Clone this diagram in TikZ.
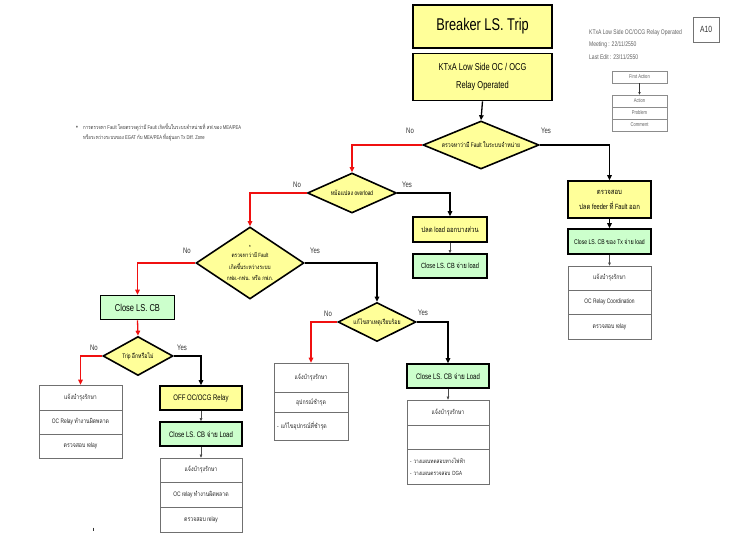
\documentclass[tikz,border=0pt]{standalone}
\usepackage{fontspec}
\setmainfont{Liberation Sans}[FakeStretch=0.75]
\newfontfamily\thaifont[Script=Thai,FakeStretch=0.8]{Loma}
\newcommand\tht[1]{{\thaifont #1}}
\usetikzlibrary{shapes.geometric,arrows.meta}
\definecolor{byel}{HTML}{FFFF99}
\definecolor{bgrn}{HTML}{CCFFCC}
\definecolor{rline}{HTML}{F01010}
\definecolor{wedge}{HTML}{707070}
\definecolor{legtxt}{HTML}{606060}
\tikzset{
  fs/.style={font=\fontsize{#1}{\fpeval{#1*1.3}}\selectfont},
  ybox/.style={draw=black, line width=1.6pt, fill=byel, inner sep=1pt, align=center, fs=7.5},
  gbox/.style={draw=black, line width=1.6pt, fill=bgrn, inner sep=1pt, align=center, fs=7.5},
  wrow/.style={draw=wedge, line width=0.7pt, fill=white, inner sep=1pt, align=center, fs=6.5, text=black!85},
  dia/.style={diamond, draw=black, line width=1.6pt, fill=byel, inner sep=0pt, align=center, fs=6.5},
  yesline/.style={draw=black, line width=1.3pt, -{Triangle[length=5pt,width=4.5pt]}},
  noline/.style={draw=rline, line width=1.3pt, -{Triangle[length=5pt,width=4.5pt]}},
  thinarr/.style={draw=black!70, line width=0.6pt, -{Triangle[length=3pt,width=2.6pt]}},
  lab/.style={fs=8, text=black!80, inner sep=0pt},
  legbox/.style={draw=black!45, line width=0.6pt, minimum width=55pt, minimum height=12pt, inner sep=0pt, fs=5.5, text=legtxt},
  legtext/.style={anchor=west, inner sep=0pt, fs=6.7, text=legtxt}
}
\begin{document}
\begin{tikzpicture}[x=1pt,y=-1pt]
\useasboundingbox (0,0) rectangle (750,537);
\fill[white] (0,0) rectangle (750,537);

% top boxes
\node[ybox, minimum width=139pt, minimum height=43pt, fs=17] (brk) at (482.5,26.5) {Breaker LS. Trip};
\node[ybox, minimum width=139pt, minimum height=47pt, font=\fontsize{10}{18}\selectfont] (ktx) at (482.5,77) {KTxA Low Side OC / OCG\\Relay Operated};

% decisions
\node[dia, aspect=2.42, minimum width=116pt, minimum height=48pt] (d1) at (481,145) {\tht{ตรวจหาว่ามี} Fault \tht{ในระบบจำหน่าย}};
\node[dia, aspect=2.2, minimum width=89pt, minimum height=40pt] (d2) at (352,193) {\tht{หม้อแปลง} overload};
\node[dia, aspect=1.5, minimum width=108pt, minimum height=72pt, font=\fontsize{6}{11.5}\selectfont] (d3) at (250,263) {*\\[-3pt]\tht{ตรวจหาว่ามี} Fault\\\tht{เกิดขึ้นระหว่างระบบ}\\\tht{กฟผ.-กฟน. หรือ กฟภ.}};
\node[dia, aspect=1.8, minimum width=70pt, minimum height=39pt] (d4) at (138,356) {Trip \tht{อีกหรือไม่}};
\node[dia, aspect=2.0, minimum width=78pt, minimum height=39pt] (d5) at (377,322) {\tht{แก้ไขสาเหตุเรียบร้อย}};

% right column (Yes of d1)
\node[ybox, minimum width=83pt, minimum height=37pt, font=\fontsize{7.5}{15}\selectfont] (fdr) at (609.5,199.5) {\tht{ตรวจสอบ}\\\tht{ปลด} feeder \tht{ที่} Fault \tht{ออก}};
\node[gbox, minimum width=83pt, minimum height=25pt, fs=6.8] (cl5) at (609.5,241.5) {Close LS. CB \tht{ของ} Tx \tht{จ่าย} load};
\node[wrow, minimum width=83pt, minimum height=24pt] (w5a) at (609.5,278) {\tht{แจ้งบำรุงรักษา}};
\node[wrow, minimum width=83pt, minimum height=24pt] (w5b) at (609.5,302) {OC Relay Coordination};
\node[wrow, minimum width=83pt, minimum height=25pt] (w5c) at (609.5,326.5) {\tht{ตรวจสอบ} relay};

% Yes of d2
\node[ybox, minimum width=74pt, minimum height=25pt] (pld) at (450,229.5) {\tht{ปลด} load \tht{ออกบางส่วน}};
\node[gbox, minimum width=74pt, minimum height=24pt] (cl4) at (450,266) {Close LS. CB \tht{จ่าย} load};

% No of d3
\node[gbox, minimum width=74pt, minimum height=24pt, fs=10] (cls) at (137.5,307.5) {Close LS. CB};

% No of d4
\node[wrow, minimum width=83pt, minimum height=25pt] (w1a) at (80.5,397.5) {\tht{แจ้งบำรุงรักษา}};
\node[wrow, minimum width=83pt, minimum height=24pt] (w1b) at (80.5,422) {OC Relay \tht{ทำงานผิดพลาด}};
\node[wrow, minimum width=83pt, minimum height=24pt] (w1c) at (80.5,446) {\tht{ตรวจสอบ} relay};

% Yes of d4
\node[ybox, minimum width=82pt, minimum height=24pt, fs=8] (off) at (201,398) {OFF OC/OCG Relay};
\node[gbox, minimum width=82pt, minimum height=24pt, fs=8] (cl2) at (201,434) {Close LS. CB \tht{จ่าย} Load};
\node[wrow, minimum width=82pt, minimum height=24pt] (w2a) at (201,470) {\tht{แจ้งบำรุงรักษา}};
\node[wrow, minimum width=82pt, minimum height=25pt] (w2b) at (201,494.5) {OC relay \tht{ทำงานผิดพลาด}};
\node[wrow, minimum width=82pt, minimum height=25pt] (w2c) at (201,519.5) {\tht{ตรวจสอบ} relay};

% No of d5
\node[wrow, minimum width=74pt, minimum height=29pt] (w3a) at (311,377.5) {\tht{แจ้งบำรุงรักษา}};
\node[wrow, minimum width=74pt, minimum height=20pt] (w3b) at (311,402) {\tht{อุปกรณ์ชำรุด}};
\node[wrow, minimum height=28pt, text width=68pt, inner xsep=3pt, align=left] (w3c) at (311,426) {- \tht{แก้ไขอุปกรณ์ที่ชำรุด}};

% Yes of d5
\node[gbox, minimum width=82pt, minimum height=24pt, fs=8] (cl3) at (448,376) {Close LS. CB \tht{จ่าย} Load};
\node[wrow, minimum width=82pt, minimum height=25pt] (w4a) at (448,412.5) {\tht{แจ้งบำรุงรักษา}};
\node[wrow, minimum width=82pt, minimum height=24pt] (w4b) at (448,437) {};
\node[wrow, minimum height=35pt, text width=76pt, inner xsep=3pt, align=left, font=\fontsize{6}{12}\selectfont] (w4c) at (448,466.5) {- \tht{วางแผนทดสอบทางไฟฟ้า}\\- \tht{วางแผนตรวจสอบ} DGA};

% connectors
\draw[yesline] (ktx.south) -- (d1.north);
\draw[noline] (d1.west) -| (d2.north);
\draw[yesline] (d1.east) -| (fdr.north);
\draw[noline] (d2.west) -| (d3.north);
\draw[yesline] (d2.east) -| (pld.north);
\draw[thinarr] (pld.south) -- (cl4.north);
\draw[noline] (d3.west) -| (cls.north);
\draw[yesline] (d3.east) -| (d5.north);
\draw[noline] (cls.south) -- (d4.north);
\draw[noline] (d4.west) -| (w1a.north);
\draw[yesline] (d4.east) -| (off.north);
\draw[thinarr] (off.south) -- (cl2.north);
\draw[thinarr] (cl2.south) -- (w2a.north);
\draw[noline] (d5.west) -| (w3a.north);
\draw[yesline] (d5.east) -| (cl3.north);
\draw[thinarr] (cl3.south) -- (w4a.north);
\draw[yesline] (fdr.south) -- (cl5.north);
\draw[thinarr] (cl5.south) -- (w5a.north);

% Yes / No labels
\node[lab] (n1) at (410,131) {No};
\node[lab] (y1) at (546,131) {Yes};
\node[lab] (n2) at (297,185) {No};
\node[lab] (y2) at (407,185) {Yes};
\node[lab] (n3) at (187,251) {No};
\node[lab] (y3) at (315,251) {Yes};
\node[lab] (n4) at (94,348) {No};
\node[lab] (y4) at (182,348) {Yes};
\node[lab] (n5) at (328,314) {No};
\node[lab] (y5) at (423,313) {Yes};

% legend
\node[legtext] (lt1) at (589,33) {KTxA Low Side OC/OCG Relay Operated};
\node[legtext] (lt2) at (589,45) {Meeting : 22/11/2550};
\node[legtext] (lt3) at (589,57) {Last Edit : 23/11/2550};
\node[draw=black!55, line width=0.6pt, minimum width=26pt, minimum height=25pt, inner sep=0pt, fs=9, text=black!80] (a10) at (706,29.5) {A10};
\node[legbox] (lfa) at (639.5,77) {First Action};
\node[legbox] (lac) at (639.5,101) {Action};
\node[legbox] (lpr) at (639.5,113) {Problem};
\node[legbox] (lco) at (639.5,125) {Comment};
\draw[draw=black!80, line width=0.6pt, -{Triangle[length=2.5pt,width=2.2pt]}] (lfa.south) -- (lac.north);

% note
\node[inner sep=0pt, fs=7, text=black!75] (blt) at (77,128) {\textbullet};
\node[anchor=west, inner sep=0pt, align=left, font=\fontsize{5.5}{10}\selectfont, text=black!75] (note) at (83,132) {\tht{การตรวจหา} Fault \tht{โดยตรวจดูว่ามี} Fault \tht{เกิดขึ้นในระบบจำหน่ายที่ สฟ.ของ} MEA/PEA\\\tht{หรือระหว่างระบบของ} EGAT \tht{กับ} MEA/PEA \tht{ที่อยู่นอก} Tx Diff. Zone};

% small mark at bottom left
\draw[line width=0.6pt, black!80] (93,527.5) -- (93,530.5);
\end{tikzpicture}
\end{document}
